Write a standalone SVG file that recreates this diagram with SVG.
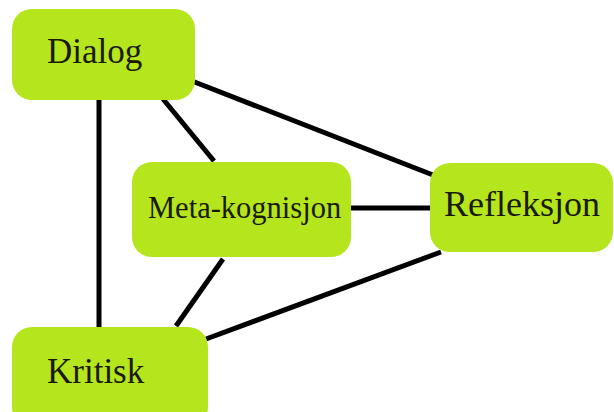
<svg xmlns="http://www.w3.org/2000/svg" width="614" height="412" viewBox="0 0 614 412">
<style>
.box{fill:#b5e61d}
.lbl{font-family:"Liberation Serif","Times New Roman",serif;fill:#1a1a00}
.c line{stroke:#000;stroke-width:5}
</style>
<rect width="614" height="412" fill="#fff"/>
<g class="c" id="connectors">
<line x1="99" y1="99" x2="99" y2="328"/>
<line x1="163" y1="99" x2="214" y2="161"/>
<line x1="192" y1="81" x2="433" y2="175"/>
<line x1="350" y1="208" x2="431" y2="208"/>
<line x1="441" y1="252" x2="206" y2="339"/>
<line x1="223" y1="259" x2="176" y2="326"/>
</g>
<g id="dialog"><rect class="box" x="12" y="9" width="183" height="91" rx="20"/><text class="lbl" x="47" y="63" font-size="35">Dialog</text></g>
<g id="meta"><rect class="box" x="132" y="162" width="219" height="95" rx="20"/><text class="lbl" x="148" y="218" font-size="30.5">Meta-kognisjon</text></g>
<g id="refleksjon"><rect class="box" x="430" y="163" width="183" height="89" rx="20"/><text class="lbl" x="444" y="216" font-size="36">Refleksjon</text></g>
<g id="kritisk"><rect class="box" x="12" y="327" width="196" height="100" rx="20"/><text class="lbl" x="47" y="383" font-size="35">Kritisk</text></g>
</svg>
